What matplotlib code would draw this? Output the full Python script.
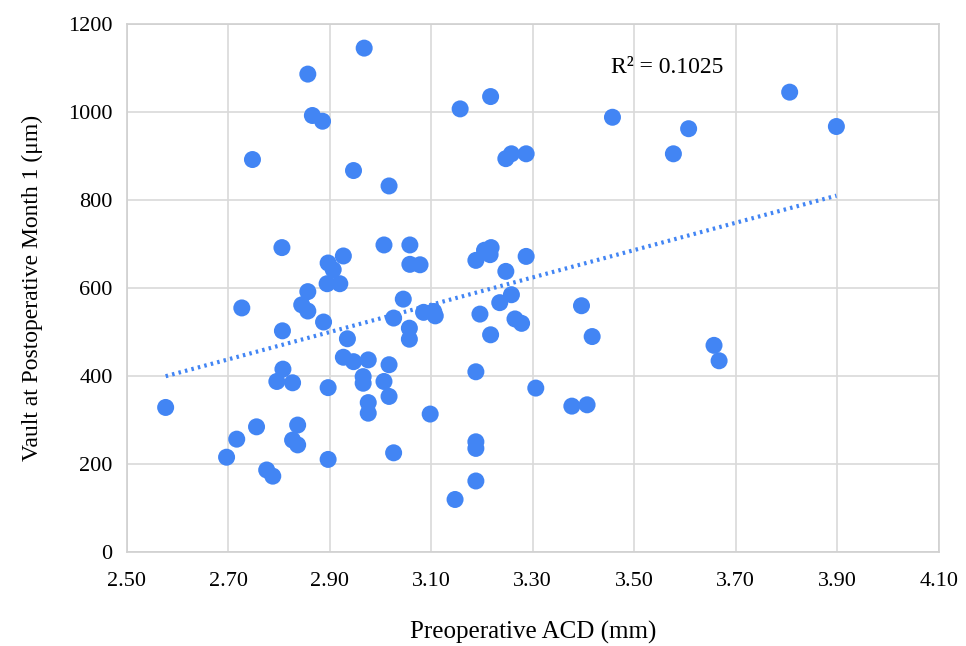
import numpy as np
import matplotlib.pyplot as plt

acd = [2.968, 2.857, 2.866, 2.886, 2.748, 2.947, 3.017, 2.806, 3.007, 3.058,
       2.927, 2.897, 2.907, 3.058, 3.078, 2.857, 2.895, 2.920, 3.045, 2.727,
       2.845, 2.857, 2.888, 3.026, 2.807, 2.935, 3.057, 3.057, 2.927, 2.947,
       2.976, 3.017, 2.808, 2.796, 2.827, 2.897, 2.966, 2.966, 3.007, 3.017,
       2.976, 2.976, 2.577, 2.756, 2.837, 2.717, 2.827, 2.837, 2.697, 2.897,
       3.026, 2.776, 2.788, 3.085, 3.105, 3.108, 3.196, 3.235, 3.258, 3.265,
       3.278, 3.217, 3.396, 3.417, 3.188, 3.306, 3.377, 3.407, 3.098, 3.188,
       3.188, 3.188, 3.147, 3.157, 3.217, 3.457, 3.577, 3.607, 3.247, 3.258,
       3.287, 3.188, 3.205, 3.218, 3.216, 3.247, 3.287, 3.806, 3.898, 3.657,
       3.667]
vault = [1145, 1086, 992, 979, 892, 867, 832, 692, 698, 698,
         673, 657, 642, 654, 653, 592, 610, 610, 575, 555,
         562, 548, 523, 532, 503, 485, 509, 484, 443, 433,
         437, 426, 416, 388, 385, 374, 399, 384, 388, 354,
         340, 316, 329, 285, 289, 257, 255, 244, 216, 211,
         226, 187, 173, 545, 547, 537, 541, 567, 585, 530,
         520, 494, 560, 490, 410, 373, 332, 335, 314, 251,
         236, 162, 120, 1007, 1035, 988, 905, 962, 894, 905,
         905, 663, 686, 692, 676, 638, 672, 1045, 967, 470,
         435]

x_ticks = [2.50, 2.70, 2.90, 3.10, 3.30, 3.50, 3.70, 3.90, 4.10]
y_ticks = [0, 200, 400, 600, 800, 1000, 1200]
r2_text = 'R² = 0.1025'

plt.rcParams['font.family'] = ['Liberation Serif', 'DejaVu Serif']
blue = '#4285f4'

x = np.array(acd)
y = np.array(vault)

fig = plt.figure(figsize=(9.66, 6.46), dpi=100)
ax = fig.add_axes([0.131, 0.145, 0.841, 0.818])

ax.scatter(x, y, s=150, color=blue, edgecolors='none', zorder=3)

# linear trend line over the data range
k, b = np.polyfit(x, y, 1)
xs = np.array([x.min(), x.max()])
ax.plot(xs, k * xs + b, linestyle=(0, (0.6, 1.0)), color=blue, lw=3, zorder=2)

ax.text(3.455, 1100, r2_text, fontsize=17, va='center', ha='left')

ax.set_xlim(2.5, 4.1)
ax.set_ylim(0, 1200)
ax.set_xticks(x_ticks)
ax.set_xticklabels([f'{t:.2f}' for t in x_ticks])
ax.set_yticks(y_ticks)
ax.tick_params(length=0, labelsize=16)
ax.tick_params(axis='x', pad=14)
ax.tick_params(axis='y', pad=10)
ax.grid(True, color='#d9d9d9', lw=1.2)
ax.set_axisbelow(True)
for s in ax.spines.values():
    s.set_color('#d0d0d0')
    s.set_linewidth(1.2)

ax.set_xlabel('Preoperative ACD (mm)', fontsize=18, labelpad=22)
ax.set_ylabel('Vault at Postoperative Month 1 (μm)', fontsize=17, labelpad=18)

fig.savefig('out.png', dpi=100, facecolor='white')
